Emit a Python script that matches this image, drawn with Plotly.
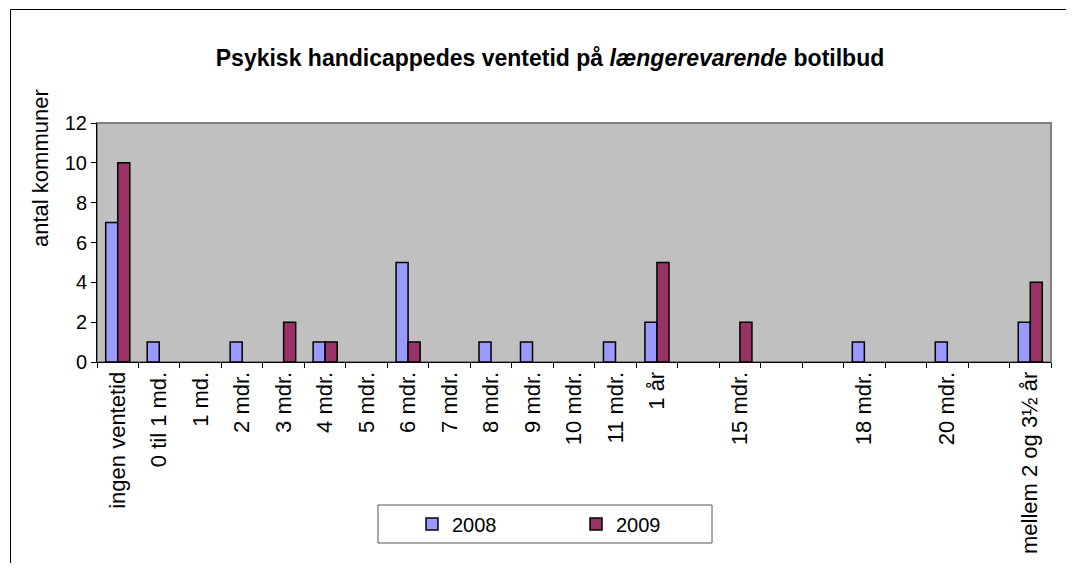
import plotly.graph_objects as go

categories = ["ingen ventetid", "0 til 1 md.", "1 md.", "2 mdr.", "3 mdr.", "4 mdr.",
              "5 mdr.", "6 mdr.", "7 mdr.", "8 mdr.", "9 mdr.", "10 mdr.", "11 mdr.",
              "1 år", " ", "15 mdr.", "  ", "   ", "18 mdr.", "    ", "20 mdr.",
              "     ", "mellem 2 og 3½ år"]
v2008 = [7, 1, None, 1, None, 1, None, 5, None, 1, 1, None, 1,
         2, None, None, None, None, 1, None, 1, None, 2]
v2009 = [10, None, None, None, 2, 1, None, 1, None, None, None, None, None,
         5, None, 2, None, None, None, None, None, None, 4]

FONT = "Liberation Sans, Arial, sans-serif"

fig = go.Figure()
fig.add_trace(go.Bar(x=categories, y=v2008, name="2008",
                     marker=dict(color="#9999FF", line=dict(color="black", width=1.5))))
fig.add_trace(go.Bar(x=categories, y=v2009, name="2009",
                     marker=dict(color="#993366", line=dict(color="black", width=1.5))))

# page offset (body margin) and plot area in page pixels
OFF = 8
FW, FH = 1074 - 2 * OFF, 571 - 2 * OFF
L, R, T, B = 97, 1051, 123, 362
W, H = R - L, B - T


def px(x):
    return (x - L) / W


def py(y):
    return (B - y) / H


fig.update_layout(
    width=FW, height=FH,
    margin=dict(l=L - OFF, r=FW - (R - OFF), t=T - OFF, b=FH - (B - OFF), pad=0),
    paper_bgcolor="white", plot_bgcolor="#C0C0C0",
    font=dict(family=FONT, size=20, color="black"),
    barmode="group", bargap=0.42, bargroupgap=0,
    title=dict(text="<b>Psykisk handicappedes ventetid på <i>længerevarende</i> botilbud</b>",
               x=(550 - OFF) / FW, xanchor="center", y=1 - (58 - OFF) / FH, yanchor="middle",
               font=dict(size=23, family=FONT, color="black")),
    showlegend=True,
    legend=dict(orientation="h", x=px(412), xanchor="left", y=py(524), yanchor="middle",
                bgcolor="rgba(0,0,0,0)", entrywidth=119, entrywidthmode="pixels",
                font=dict(size=20, family=FONT), itemclick=False),
    xaxis=dict(type="category", tickangle=-90, tickson="boundaries", ticks="outside",
               ticklen=5, tickcolor="black", showline=True, linecolor="black",
               linewidth=1, showgrid=False, tickfont=dict(size=22), automargin=False),
    yaxis=dict(range=[0, 12], dtick=2, ticks="outside", ticklen=5, tickcolor="black",
               showline=True, linecolor="black", linewidth=1, showgrid=False,
               zeroline=False, tickfont=dict(size=20), automargin=False),
)

# grey frame of the plot area
fig.add_shape(type="rect", xref="paper", yref="paper", x0=0, x1=1, y0=0, y1=1,
              line=dict(color="#808080", width=2), layer="below")
# chart border: only top and left edges are inside the picture
fig.add_shape(type="line", xref="paper", yref="paper", x0=px(10.5), x1=px(1100),
              y0=py(9.5), y1=py(9.5), line=dict(color="black", width=1))
fig.add_shape(type="line", xref="paper", yref="paper", x0=px(10.5), x1=px(10.5),
              y0=py(9.5), y1=py(600), line=dict(color="black", width=1))
# legend box
fig.add_shape(type="rect", xref="paper", yref="paper", x0=px(378), x1=px(712),
              y0=py(543), y1=py(505), line=dict(color="#555555", width=1),
              fillcolor="white", layer="below")

fig.add_annotation(text="antal kommuner", xref="paper", yref="paper",
                   x=px(40), y=py(249), xanchor="center", yanchor="bottom",
                   textangle=-90, showarrow=False, font=dict(size=22, family=FONT))

fig.write_html("out.html")
